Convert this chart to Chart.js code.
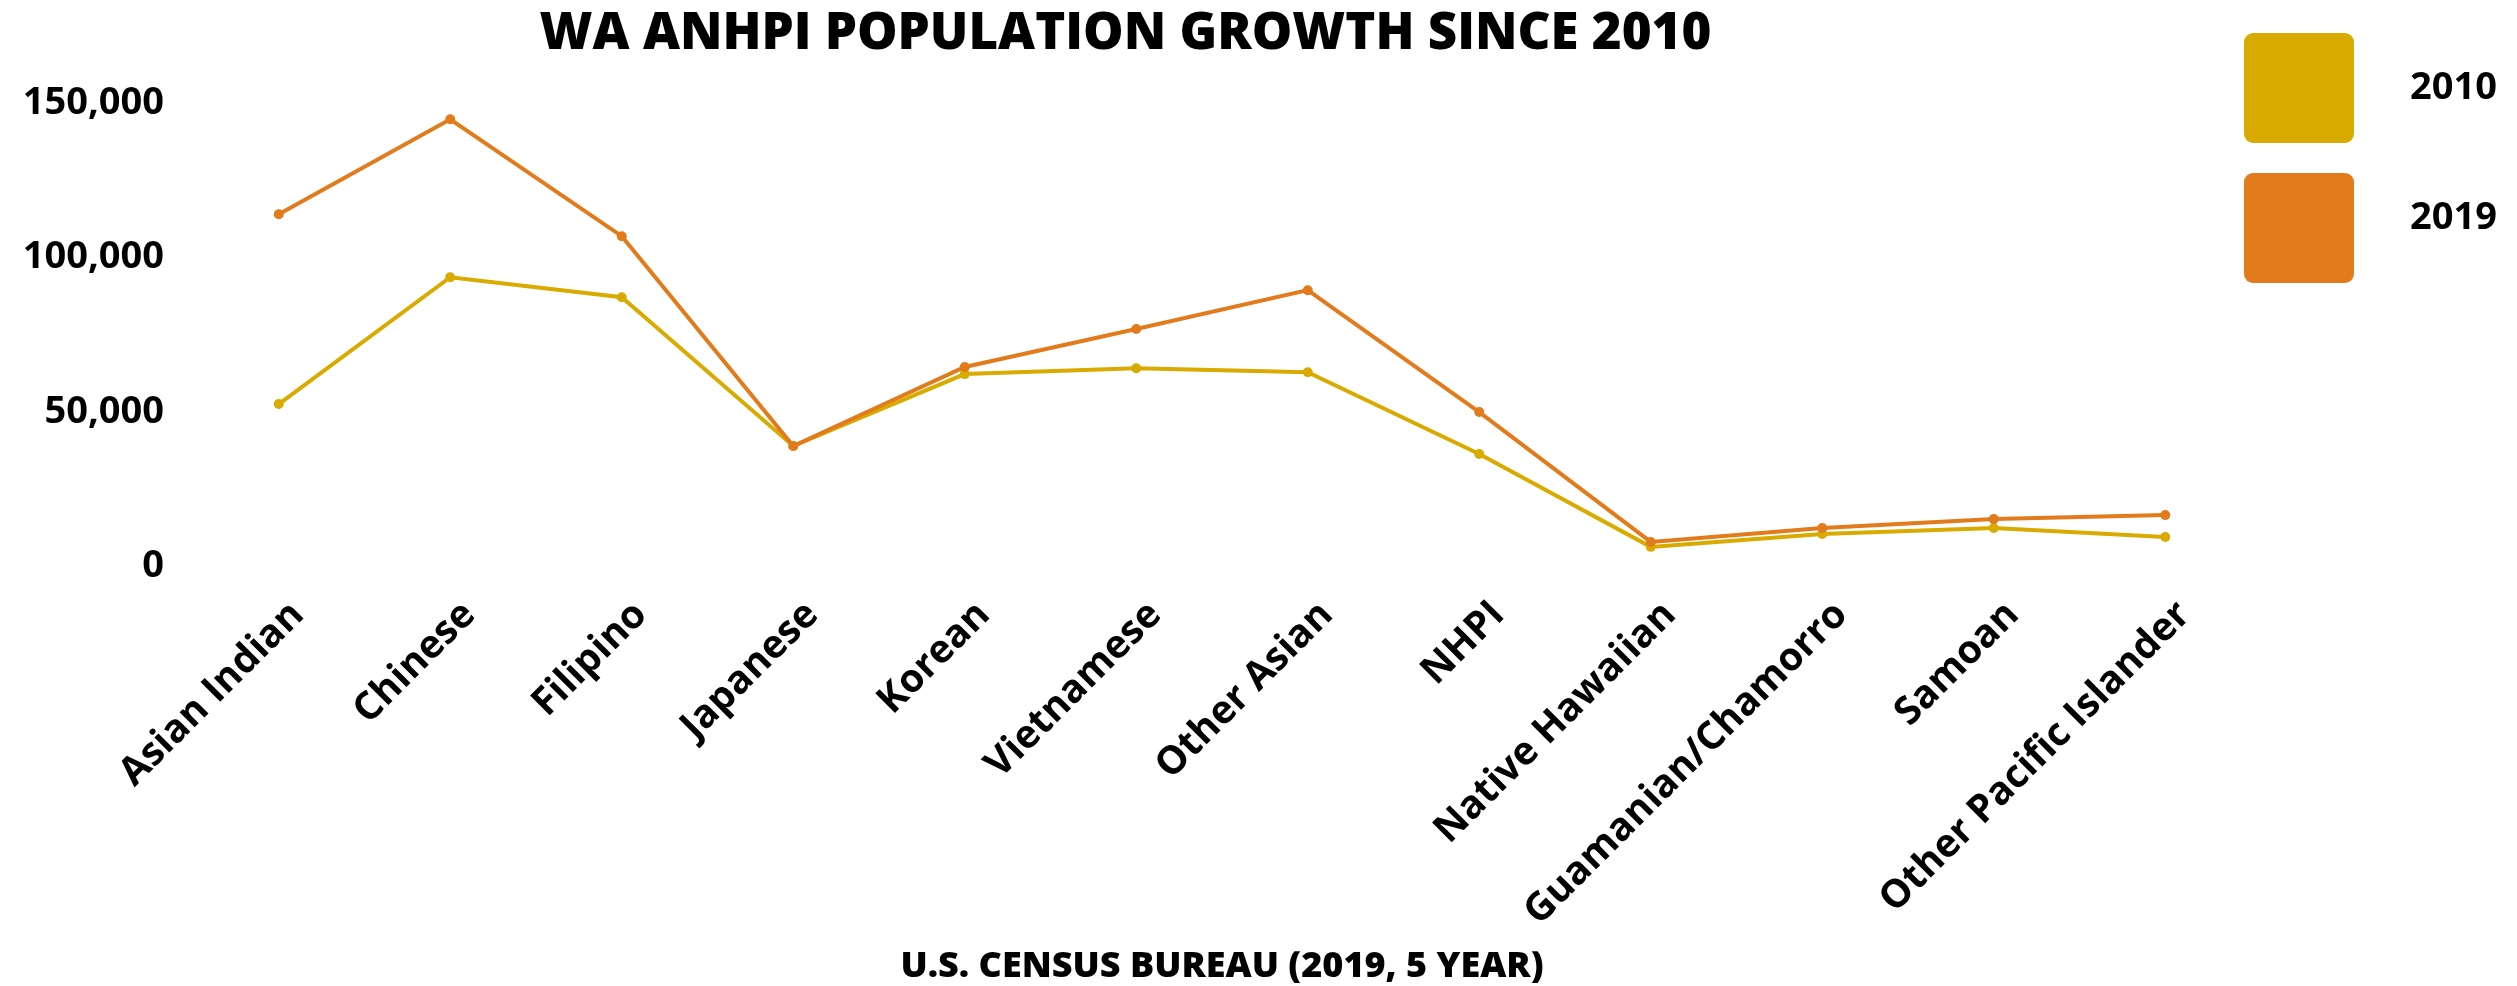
<!DOCTYPE html>
<html>
<head>
<meta charset="utf-8">
<script src="https://cdn.jsdelivr.net/npm/chart.js@4"></script>
<style>
  html, body { margin: 0; padding: 0; background: #fff; }
  #wrap { width: 2517px; height: 986px; position: relative; }
</style>
</head>
<body>
<div id="wrap"><canvas id="myChart"></canvas></div>
<script>
const categories = [
  'Asian Indian', 'Chinese', 'Filipino', 'Japanese', 'Korean', 'Vietnamese',
  'Other Asian', 'NHPI', 'Native Hawaiian', 'Guamanian/Chamorro', 'Samoan',
  'Other Pacific Islander'
];
const pop2010 = [52500, 93600, 87100, 38900, 62200, 64100, 62800, 36300, 6200, 10400, 12300, 9400];
const pop2019 = [114000, 144800, 106900, 38900, 64500, 76800, 89400, 49900, 7800, 12300, 15200, 16500];
const yTicks = [0, 50000, 100000, 150000];

const chartTitle = 'WA ANHPI POPULATION GROWTH SINCE 2010';
const sourceNote = 'U.S. CENSUS BUREAU (2019, 5 YEAR)';

const gold = '#d9ab00';
const orange = '#e27b1b';

// legend drawn as big rounded squares on the right
const squareLegend = {
  id: 'squareLegend',
  afterDraw(chart) {
    const ctx = chart.ctx;
    ctx.save();
    chart.data.datasets.forEach((ds, i) => {
      const top = 33 + i * 140;
      ctx.fillStyle = ds.borderColor;
      ctx.beginPath();
      ctx.roundRect(2244, top, 110, 110, 9);
      ctx.fill();
      ctx.fillStyle = '#000';
      ctx.font = 'bold 38px "Open Sans"';
      ctx.textBaseline = 'middle';
      ctx.fillText(ds.label, 2410, top + 55 - i * 10);
    });
    ctx.restore();
  }
};

const config = {
  type: 'line',
  data: {
    labels: categories,
    datasets: [
      {
        label: '2010',
        data: pop2010,
        borderColor: gold,
        backgroundColor: gold,
        borderWidth: 4,
        pointRadius: 5,
        pointBorderWidth: 0,
        tension: 0,
        order: 1
      },
      {
        label: '2019',
        data: pop2019,
        borderColor: orange,
        backgroundColor: orange,
        borderWidth: 4,
        pointRadius: 5,
        pointBorderWidth: 0,
        tension: 0,
        order: 0
      }
    ]
  },
  options: {
    responsive: true,
    maintainAspectRatio: false,
    animation: false,
    layout: { padding: { left: 0, right: 266, top: 0, bottom: 0 } },
    plugins: {
      legend: { display: false },
      tooltip: { enabled: false },
      title: {
        display: true,
        text: chartTitle,
        color: '#000',
        font: { family: '"Open Sans"', size: 51, weight: '800', lineHeight: 1.2 },
        padding: { top: 4, bottom: 38 }
      }
    },
    scales: {
      x: {
        offset: true,
        grid: { display: false, drawTicks: false },
        border: { display: false },
        ticks: {
          color: '#000',
          font: { family: '"Open Sans"', size: 39, weight: 'bold' },
          minRotation: 45,
          maxRotation: 45,
          padding: 26,
          labelOffset: 19,
          autoSkip: false
        },
        title: {
          display: true,
          text: sourceNote,
          color: '#000',
          font: { family: '"Open Sans"', size: 36, weight: '800', lineHeight: 1 },
          padding: { top: 0, bottom: 1 }
        },
        afterFit(scale) { scale.height = 420; }
      },
      y: {
        min: 0,
        max: 150000,
        grid: { display: false, drawTicks: false },
        border: { display: false },
        afterBuildTicks(scale) { scale.ticks = yTicks.map(v => ({ value: v })); },
        ticks: {
          color: '#000',
          font: { family: '"Open Sans"', size: 38, weight: 'bold' },
          padding: 29,
          callback: v => v.toLocaleString('en-US')
        },
        afterFit(scale) { scale.width = 193; }
      }
    }
  },
  plugins: [squareLegend]
};

var myChart = new Chart(document.getElementById('myChart'), config);
</script>
</body>
</html>
